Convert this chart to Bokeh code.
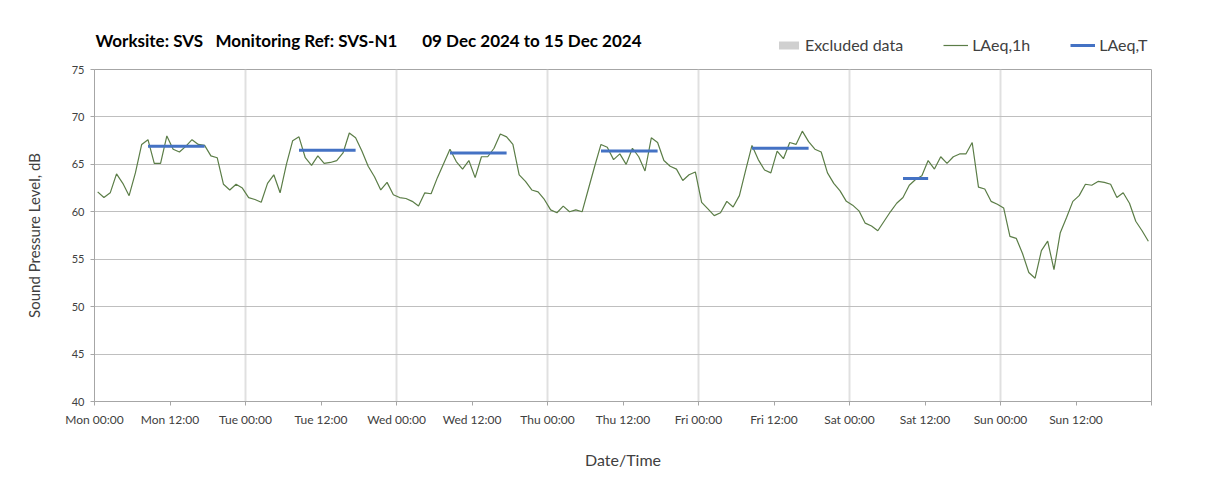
import numpy as np
from bokeh.plotting import figure
from bokeh.layouts import column
from bokeh.models import FixedTicker, Legend, LegendItem
from bokeh.core.properties import value
from bokeh.embed import file_html
from bokeh.resources import INLINE

# ---- data (hourly LAeq,1h, dB), one list per day ----
mon = [62.1, 61.5, 62.0, 64.0, 63.0, 61.7, 64.1, 67.1, 67.6, 65.1, 65.1, 68.0,
       66.6, 66.3, 66.9, 67.6, 67.1, 67.0, 65.9, 65.7, 62.9, 62.3, 62.9, 62.5]
tue = [61.5, 61.3, 61.0, 63.0, 63.9, 62.0, 65.0, 67.5, 67.9, 65.7, 64.9, 65.9,
       65.1, 65.2, 65.4, 66.2, 68.3, 67.8, 66.4, 64.8, 63.7, 62.3, 63.1, 61.8]
wed = [61.5, 61.4, 61.1, 60.6, 62.0, 61.9, 63.6, 65.1, 66.6, 65.3, 64.5, 65.4,
       63.6, 65.8, 65.8, 66.7, 68.2, 67.9, 67.1, 63.9, 63.2, 62.3, 62.1, 61.3]
thu = [60.2, 59.9, 60.6, 60.0, 60.2, 60.0, 62.4, 64.8, 67.1, 66.8, 65.5, 66.1,
       65.0, 66.7, 65.8, 64.3, 67.8, 67.3, 65.4, 64.8, 64.5, 63.3, 63.9, 64.2]
fri = [61.0, 60.3, 59.6, 59.9, 61.1, 60.5, 61.7, 64.4, 67.0, 65.5, 64.4, 64.1,
       66.4, 65.6, 67.3, 67.1, 68.5, 67.4, 66.6, 66.3, 64.1, 63.0, 62.2, 61.1]
sat = [60.7, 60.1, 58.8, 58.5, 58.0, 59.0, 60.0, 60.9, 61.5, 62.8, 63.4, 63.8,
       65.4, 64.5, 65.8, 65.1, 65.8, 66.1, 66.1, 67.3, 62.6, 62.4, 61.1, 60.8]
sun = [60.4, 57.4, 57.2, 55.6, 53.6, 53.0, 55.9, 56.9, 53.9, 57.8, 59.4, 61.1,
       61.7, 62.9, 62.8, 63.2, 63.1, 62.9, 61.5, 62.0, 60.9, 59.0, 58.0, 56.9]

# LAeq,T working periods: day index, start hour, end hour (exclusive), value
period_day = [0, 1, 2, 3, 4, 5]
period_start = [8, 8, 8, 8, 8, 8]
period_end = [18, 18, 18, 18, 18, 13]
period_value = [66.9, 66.5, 66.2, 66.4, 66.7, 63.5]

tick_hours = [0, 12, 24, 36, 48, 60, 72, 84, 96, 108, 120, 132, 144, 156, 168]
tick_labels = ["Mon 00:00", "Mon 12:00", "Tue 00:00", "Tue 12:00", "Wed 00:00",
               "Wed 12:00", "Thu 00:00", "Thu 12:00", "Fri 00:00", "Fri 12:00",
               "Sat 00:00", "Sat 12:00", "Sun 00:00", "Sun 12:00", ""]
day_lines = [24, 48, 72, 96, 120, 144]
y_ticks = [40, 45, 50, 55, 60, 65, 70, 75]

title_text = ("Worksite: SVS\u00a0\u00a0\u00a0Monitoring Ref: SVS-N1"
              "\u00a0\u00a0\u00a0\u00a0\u00a0\u00a009 Dec 2024 to 15 Dec 2024")
legend_labels = ["Excluded data", "LAeq,1h", "LAeq,T"]

# ---- build series ----
laeq_1h = np.array(mon + tue + wed + thu + fri + sat + sun)
hours = np.arange(len(laeq_1h)) + 0.5
laeq_T = np.full(len(laeq_1h), np.nan)
for d, s, e, v in zip(period_day, period_start, period_end, period_value):
    laeq_T[d * 24 + s: d * 24 + e] = v

FONT = "Lato"
TXT = "#404040"
GREEN = "#5b7d47"
BLUE = "#4472C4"
W = 1198
HEAD_H = 60
LEFT, RIGHT = 94, 47
FRAME_W = W - LEFT - RIGHT

# ---- header (title + legend); its frame is aligned with the chart frame ----
head = figure(width=W, height=HEAD_H, x_range=(0, FRAME_W), y_range=(0, HEAD_H),
              x_axis_type=None, y_axis_type=None, output_backend="svg",
              toolbar_location=None, min_border_left=LEFT,
              min_border_right=RIGHT, min_border_top=0, min_border_bottom=0)
head.outline_line_color = None
head.xgrid.visible = False
head.ygrid.visible = False
head.text(x=[1], y=[HEAD_H - 40], text=[title_text], text_font=value(FONT),
          text_font_size="17px", text_font_style="bold", text_color="#000000",
          text_baseline="middle", text_align="left")
nan = [np.nan]
h_ex = head.quad(left=nan, right=nan, bottom=nan, top=nan, fill_color="#d0d0d0",
                 line_color=None)
h_1h = head.line(x=nan, y=nan, line_color=GREEN, line_width=1.2)
h_T = head.line(x=nan, y=nan, line_color=BLUE, line_width=3)
legend = Legend(items=[LegendItem(label=legend_labels[0], renderers=[h_ex]),
                       LegendItem(label=legend_labels[1], renderers=[h_1h]),
                       LegendItem(label=legend_labels[2], renderers=[h_T])],
                orientation="horizontal", location=(682, HEAD_H - 54),
                border_line_color=None, background_fill_alpha=0,
                label_text_font=FONT, label_text_font_size="16px",
                label_text_color=TXT, glyph_width=25, glyph_height=10,
                spacing=40, label_standoff=4, padding=0, margin=0)
head.add_layout(legend)

# ---- main chart ----
p = figure(width=W, height=478 - HEAD_H, x_range=(0, 168), y_range=(40, 75),
           output_backend="svg", toolbar_location=None,
           min_border_left=LEFT, min_border_right=RIGHT,
           min_border_top=69 - HEAD_H, min_border_bottom=77)
p.outline_line_color = "#a6a6a6"

p.line(hours, laeq_1h, line_color=GREEN, line_width=1.2)
p.line(hours, laeq_T, line_color=BLUE, line_width=3)

p.xaxis.ticker = FixedTicker(ticks=tick_hours)
p.xaxis.major_label_overrides = {h: lab for h, lab in zip(tick_hours, tick_labels)}
p.yaxis.ticker = FixedTicker(ticks=y_ticks)
for ax in (p.xaxis[0], p.yaxis[0]):
    ax.axis_line_color = "#a6a6a6"
    ax.major_tick_line_color = "#a6a6a6"
    ax.minor_tick_line_color = None
    ax.major_tick_out = 4
    ax.major_tick_in = 0
    ax.major_label_text_font = FONT
    ax.major_label_text_color = TXT
    ax.axis_label_text_font = FONT
    ax.axis_label_text_font_style = "normal"
    ax.axis_label_text_color = TXT
p.xaxis.major_label_text_font_size = "12px"
p.yaxis.major_label_text_font_size = "11px"
p.xaxis.major_label_standoff = 6
p.yaxis.major_label_standoff = 6
p.xaxis.axis_label = "Date/Time"
p.xaxis.axis_label_text_font_size = "16px"
p.xaxis.axis_label_standoff = 20
p.yaxis.axis_label = "Sound Pressure Level, dB"
p.yaxis.axis_label_text_font_size = "15px"
p.yaxis.axis_label_standoff = 26

p.xgrid.ticker = FixedTicker(ticks=day_lines)
p.xgrid.grid_line_color = "#e0e0e0"
p.xgrid.grid_line_width = 2
p.ygrid.grid_line_color = "#bfbfbf"
p.ygrid.grid_line_width = 1

open("out.html", "w").write(file_html(column(head, p, spacing=0), INLINE))
